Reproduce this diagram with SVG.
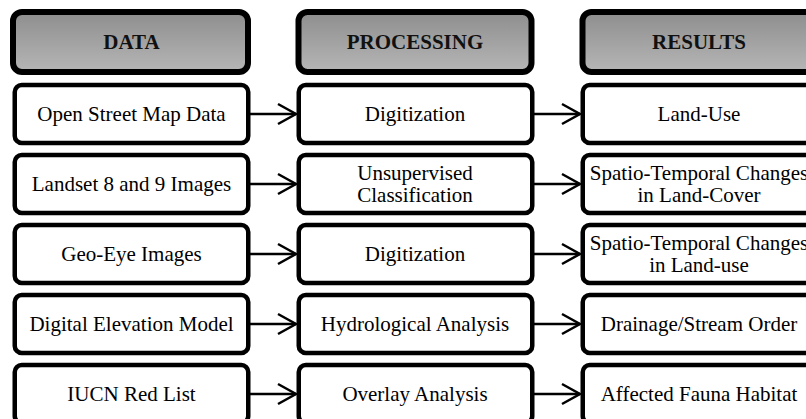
<svg xmlns="http://www.w3.org/2000/svg" width="806" height="419" viewBox="0 0 806 419">
  <defs>
    <linearGradient id="hdrFill" x1="0" y1="0" x2="0" y2="1">
      <stop offset="0" stop-color="#8e8e8e"/>
      <stop offset="1" stop-color="#b6b6b6"/>
    </linearGradient>
    <style>
      .hdr rect { fill: url(#hdrFill); stroke: #000; stroke-width: 6; }
      .box rect { fill: #fff; stroke: #000; stroke-width: 4.5; }
      text { font-family: "Liberation Serif", "Times New Roman", serif; font-size: 21px; fill: #000; text-anchor: middle; }
      .hdr text { font-weight: bold; fill: #111; }
      .conn line, .conn polyline { fill: none; stroke: #000; stroke-width: 2.5; }
    </style>
  </defs>

  <rect width="806" height="419" fill="#fff"/>

  <!-- column headers -->
  <g id="hdr-data" class="hdr">
    <rect x="13" y="12" width="235" height="60" rx="9"/>
    <text x="131.5" y="49">DATA</text>
  </g>
  <g id="hdr-processing" class="hdr">
    <rect x="298.5" y="12" width="233" height="60" rx="9"/>
    <text x="415" y="49">PROCESSING</text>
  </g>
  <g id="hdr-results" class="hdr">
    <rect x="582.5" y="12" width="233" height="60" rx="9"/>
    <text x="699" y="49">RESULTS</text>
  </g>

  <!-- data column -->
  <g id="data-osm" class="box">
    <rect x="14.75" y="85" width="233.5" height="58" rx="7"/>
    <text x="131.5" y="121">Open Street Map Data</text>
  </g>
  <g id="data-landsat" class="box">
    <rect x="14.75" y="155" width="233.5" height="58" rx="7"/>
    <text x="131.5" y="191">Landset 8 and 9 Images</text>
  </g>
  <g id="data-geoeye" class="box">
    <rect x="14.75" y="225" width="233.5" height="58" rx="7"/>
    <text x="131.5" y="261">Geo-Eye Images</text>
  </g>
  <g id="data-dem" class="box">
    <rect x="14.75" y="295" width="233.5" height="58" rx="7"/>
    <text x="131.5" y="331">Digital Elevation Model</text>
  </g>
  <g id="data-iucn" class="box">
    <rect x="14.75" y="365" width="233.5" height="58" rx="7"/>
    <text x="131.5" y="401">IUCN Red List</text>
  </g>

  <!-- processing column -->
  <g id="proc-digitization-1" class="box">
    <rect x="298.75" y="85" width="233.5" height="58" rx="7"/>
    <text x="415" y="121">Digitization</text>
  </g>
  <g id="proc-classification" class="box">
    <rect x="298.75" y="155" width="233.5" height="58" rx="7"/>
    <text x="415" y="180">Unsupervised</text>
    <text x="415" y="201.5">Classification</text>
  </g>
  <g id="proc-digitization-2" class="box">
    <rect x="298.75" y="225" width="233.5" height="58" rx="7"/>
    <text x="415" y="261">Digitization</text>
  </g>
  <g id="proc-hydrology" class="box">
    <rect x="298.75" y="295" width="233.5" height="58" rx="7"/>
    <text x="415" y="331">Hydrological Analysis</text>
  </g>
  <g id="proc-overlay" class="box">
    <rect x="298.75" y="365" width="233.5" height="58" rx="7"/>
    <text x="415" y="401">Overlay Analysis</text>
  </g>

  <!-- results column -->
  <g id="res-landuse" class="box">
    <rect x="582.75" y="85" width="233.5" height="58" rx="7"/>
    <text x="699" y="121">Land-Use</text>
  </g>
  <g id="res-landcover-change" class="box">
    <rect x="582.75" y="155" width="233.5" height="58" rx="7"/>
    <text x="699" y="180">Spatio-Temporal Changes</text>
    <text x="699" y="201.5">in Land-Cover</text>
  </g>
  <g id="res-landuse-change" class="box">
    <rect x="582.75" y="225" width="233.5" height="58" rx="7"/>
    <text x="699" y="250">Spatio-Temporal Changes</text>
    <text x="699" y="271.5">in Land-use</text>
  </g>
  <g id="res-drainage" class="box">
    <rect x="582.75" y="295" width="233.5" height="58" rx="7"/>
    <text x="699" y="331">Drainage/Stream Order</text>
  </g>
  <g id="res-fauna" class="box">
    <rect x="582.75" y="365" width="233.5" height="58" rx="7"/>
    <text x="699" y="401">Affected Fauna Habitat</text>
  </g>

  <!-- connectors: shaft plus open chevron head -->
  <g id="connectors" class="conn">
    <line x1="250" y1="114" x2="296" y2="114"/><polyline points="278,104 296,114 278,124"/>
    <line x1="534" y1="114" x2="580" y2="114"/><polyline points="562,104 580,114 562,124"/>
    <line x1="250" y1="184" x2="296" y2="184"/><polyline points="278,174 296,184 278,194"/>
    <line x1="534" y1="184" x2="580" y2="184"/><polyline points="562,174 580,184 562,194"/>
    <line x1="250" y1="254" x2="296" y2="254"/><polyline points="278,244 296,254 278,264"/>
    <line x1="534" y1="254" x2="580" y2="254"/><polyline points="562,244 580,254 562,264"/>
    <line x1="250" y1="324" x2="296" y2="324"/><polyline points="278,314 296,324 278,334"/>
    <line x1="534" y1="324" x2="580" y2="324"/><polyline points="562,314 580,324 562,334"/>
    <line x1="250" y1="394" x2="296" y2="394"/><polyline points="278,384 296,394 278,404"/>
    <line x1="534" y1="394" x2="580" y2="394"/><polyline points="562,384 580,394 562,404"/>
  </g>
</svg>
